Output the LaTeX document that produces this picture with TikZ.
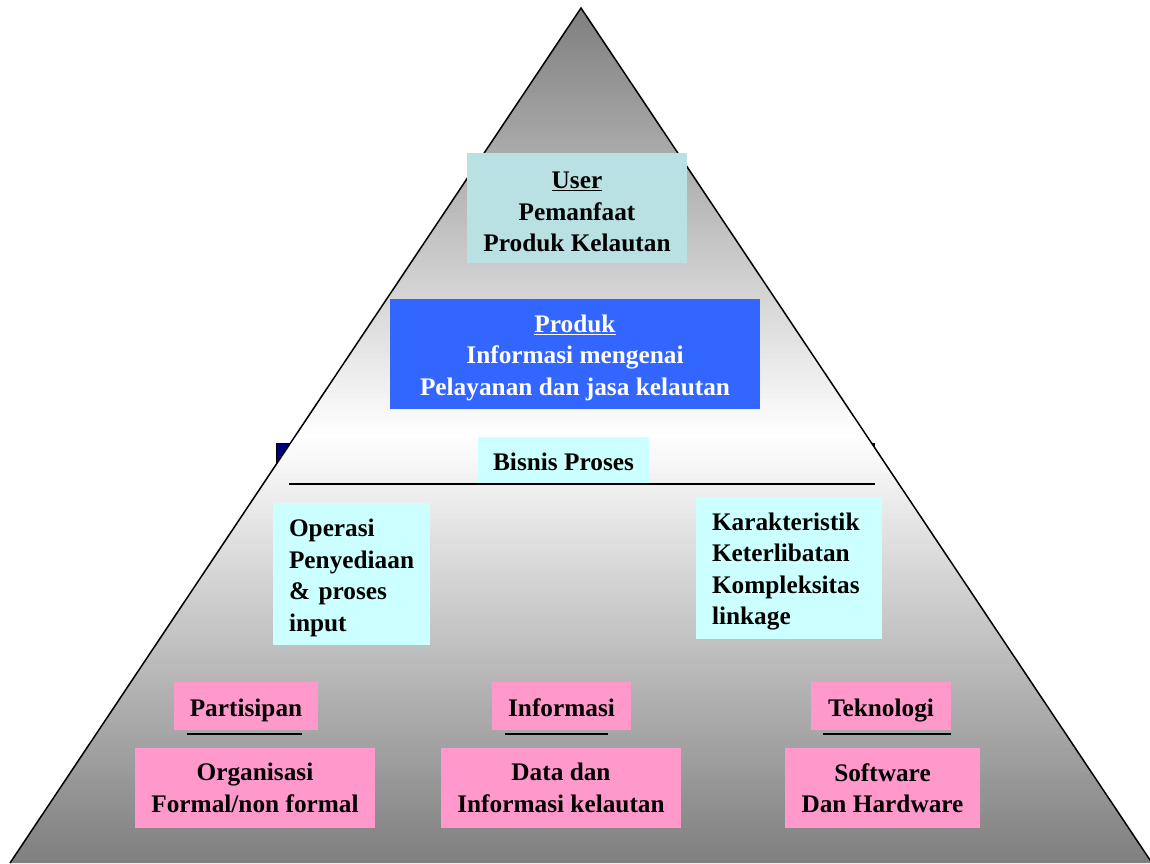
\documentclass[tikz,border=0pt]{standalone}
\usepackage{fontspec}
\setmainfont{Liberation Serif}
\definecolor{userfill}{RGB}{185,224,227}
\definecolor{prodfill}{RGB}{51,102,255}
\definecolor{cyanfill}{RGB}{204,255,255}
\definecolor{pinkfill}{RGB}{255,153,204}
\definecolor{navyfill}{RGB}{0,0,128}
\newcommand{\topstrut}{\rule{0pt}{25pt}}
\begin{document}
\begin{tikzpicture}[x=1pt,y=-1pt,
  box/.style={rectangle, inner sep=0pt, align=center,
    font=\fontsize{25.3}{31.5}\selectfont\bfseries},
  onebox/.style={box, text height=24pt, text depth=4pt},
  leftbox/.style={box, align=left, inner xsep=16pt},
  rule/.style={line width=1.6pt, black}
]
\useasboundingbox (0,0) rectangle (1150,863);
% dark band behind the pyramid
\draw[fill=navyfill, line width=0.8pt] (276,443) rectangle (874,520);
% the pyramid: grey at apex and base, white across the middle
\begin{scope}
  \clip (581,8) -- (10,863) -- (1152,863) -- cycle;
  \foreach \i in {0,...,170} {
    \pgfmathsetmacro{\t}{abs(\i-85)/85*100}
    \fill[gray!\t!white] (0,{8+5*\i}) rectangle (1160,{14+5*\i});
  }
\end{scope}
\draw[line width=1.5pt] (10,863) -- (581,8) -- (1152,863);

% upper levels
\node[box, fill=userfill, minimum width=220pt, minimum height=110pt] (user) at (577,208)
  {\topstrut\underline{User}\\Pemanfaat\\Produk Kelautan};
\node[box, fill=prodfill, text=white, minimum width=370pt, minimum height=110pt] (produk) at (575,354)
  {\topstrut\underline{Produk}\\Informasi mengenai\\Pelayanan dan jasa kelautan};
\node[onebox, fill=cyanfill, minimum width=171pt, minimum height=46pt] (bisnis) at (563.5,460)
  {Bisnis Proses};
\coordinate (sepL) at (289,484);
\coordinate (sepR) at (875,484);
\draw[line width=1.2pt] (sepL) -- (sepR);

% business process details
\node[leftbox, fill=cyanfill, text width=125pt, minimum height=142pt] (operasi) at (351.5,574)
  {\topstrut Operasi\\Penyediaan\\\& proses\\input};
\node[leftbox, fill=cyanfill, text width=154pt, minimum height=142pt] (karak) at (789,568)
  {\topstrut Karakteristik\\Keterlibatan\\Kompleksitas\\linkage};

% components
\node[onebox, fill=pinkfill, minimum width=144pt, minimum height=48pt] (partisipan) at (246,706) {Partisipan};
\node[onebox, fill=pinkfill, minimum width=139pt, minimum height=48pt] (informasi) at (561.5,706) {Informasi};
\node[onebox, fill=pinkfill, minimum width=140pt, minimum height=48pt] (teknologi) at (881,706) {Teknologi};

\coordinate (pa1) at (187,734); \coordinate (pa2) at (302,734);
\coordinate (in1) at (505,734); \coordinate (in2) at (608,734);
\coordinate (te1) at (823,734); \coordinate (te2) at (951,734);
\draw[rule] (pa1) -- (pa2);
\draw[rule] (in1) -- (in2);
\draw[rule] (te1) -- (te2);

\node[box, fill=pinkfill, minimum width=240pt, minimum height=80pt] (organisasi) at (255,788)
  {Organisasi\\Formal/non formal};
\node[box, fill=pinkfill, minimum width=240pt, minimum height=80pt] (data) at (561,788)
  {Data dan\\Informasi kelautan};
\node[box, fill=pinkfill, minimum width=195pt, minimum height=80pt] (software) at (882.5,788)
  {Software\\Dan Hardware};
\end{tikzpicture}
\end{document}
